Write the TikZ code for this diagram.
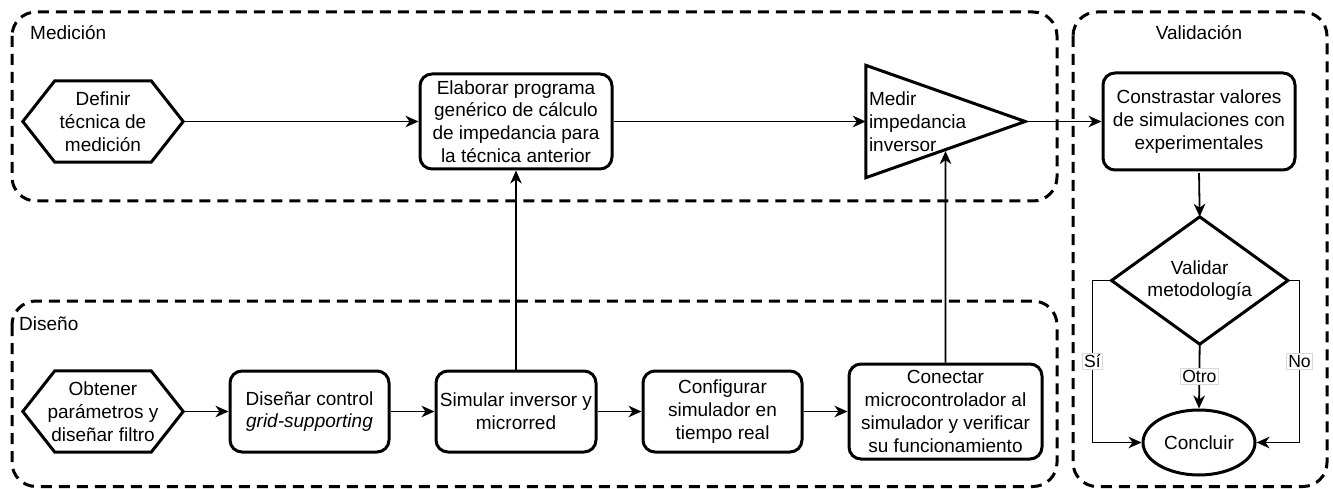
\documentclass[tikz,border=0pt]{standalone}
\usepackage{fontspec}
\setmainfont{Liberation Sans}
\usetikzlibrary{arrows.meta,shapes.geometric,calc}
\begin{document}
\begin{tikzpicture}[x=1pt,y=-1pt,
  every node/.style={font=\fontsize{19}{22.8}\selectfont},
  group/.style={draw, line width=3pt, dash pattern=on 11pt off 7pt, rounded corners=24pt},
  proc/.style={draw, line width=3pt, rounded corners=12pt, align=center, inner sep=2pt, fill=white},
  frame/.style={inner sep=0pt, align=center},
  outline/.style={draw, fill=white, line width=3pt, line join=miter},
  arr/.style={line width=1.8pt, -{Stealth[length=13pt,width=11.5pt,inset=4pt]}},
  lbl/.style={fill=white, draw=black!15, line width=0.8pt, inner sep=1.5pt,
              font=\fontsize{17.6}{21}\selectfont}
]
% canvas
\fill[white] (0,0) rectangle (1333,489);
\useasboundingbox (0,0) rectangle (1333,489);

% phase groups
\draw[group] (12,12) rectangle (1057,201);
\draw[group] (12,301) rectangle (1057,486.5);
\draw[group] (1073,12) rectangle (1327,486.5);
\node[anchor=west, inner sep=0pt] (tmed) at (30,33) {Medición};
\node[anchor=west, inner sep=0pt] (tdis) at (19,324) {Diseño};
\node[inner sep=0pt] (tval) at (1199,33) {Validación};

% --- Medición ---
\node[frame, minimum width=160pt, minimum height=81pt] (def) at (103,121.5) {};
\path[outline] (def.west) -- ([xshift=32pt]def.north west) -- ([xshift=-32pt]def.north east)
  -- (def.east) -- ([xshift=-32pt]def.south east) -- ([xshift=32pt]def.south west) -- cycle;
\node[frame] (tdef) at (def) {Definir\\técnica de\\medición};

\node[proc, minimum width=192pt, minimum height=95pt] (elab) at (516,121.5)
  {Elaborar programa\\genérico de cálculo\\de impedancia para\\la técnica anterior};

\node[minimum width=159pt, minimum height=112pt, inner ysep=0pt] (med) at (945.5,121.5) {};
\path[outline] (med.north west) -- (med.east) -- (med.south west) -- cycle;
\node[text width=153pt, align=left, inner xsep=3pt, inner ysep=0pt] (tmedir) at (med)
  {Medir\\impedancia\\inversor};

% --- Diseño ---
\node[frame, minimum width=160pt, minimum height=81pt] (obt) at (103,411.5) {};
\path[outline] (obt.west) -- ([xshift=32pt]obt.north west) -- ([xshift=-32pt]obt.north east)
  -- (obt.east) -- ([xshift=-32pt]obt.south east) -- ([xshift=32pt]obt.south west) -- cycle;
\node[frame] (tobt) at (obt) {Obtener\\parámetros y\\diseñar filtro};

\node[proc, minimum width=159pt, minimum height=81pt] (dctl) at (309.5,411.5)
  {Diseñar control\\\textit{grid-supporting}};
\node[proc, minimum width=160pt, minimum height=81pt, inner xsep=0pt] (sim) at (516,411.5)
  {Simular inversor y\\microrred};
\node[proc, minimum width=159pt, minimum height=81pt] (cfg) at (722.5,411.5)
  {Configurar\\simulador en\\tiempo real};
\node[proc, minimum width=193pt, minimum height=95pt] (con) at (945.5,411.5)
  {Conectar\\microcontrolador al\\simulador y verificar\\su funcionamiento};

% --- Validación ---
\node[proc, minimum width=192pt, minimum height=97pt] (cst) at (1199,121.5)
  {Constrastar valores\\de simulaciones con\\experimentales};
\node[frame, minimum width=176pt, minimum height=127pt] (val) at (1199.7,280.5) {};
\path[outline] (val.north) -- (val.east) -- (val.south) -- (val.west) -- cycle;
\node[frame] (tval2) at (val) {Validar\\metodología};
\node[ellipse, draw, fill=white, line width=3pt, minimum width=112pt, minimum height=65pt,
      inner sep=0pt] (end) at (1199,442.5) {Concluir};

% connectors
\draw[arr] (def.east) -- (elab.west);
\draw[arr] (elab.east) -- (med.west);
\draw[arr] (med.east) -- (cst.west);
\draw[arr] (obt.east) -- (dctl.west);
\draw[arr] (dctl.east) -- (sim.west);
\draw[arr] (sim.east) -- (cfg.west);
\draw[arr] (cfg.east) -- (con.west);
\draw[arr] (sim.north) -- (elab.south);
\draw[arr, shorten >=1.5pt] (con.north) -- ($(med.south west)!0.5!(med.east)$);
\draw[arr, shorten <=1.5pt] (cst.south) -- (val.north);
\draw[arr] (val.west) -- ++(-19,0) |- node[pos=0.25, lbl] {Sí} (end.west);
\draw[arr] (val.east) -- ++(11.6,0) |- node[pos=0.25, lbl] {No} (end.east);
\draw[arr] (val.south) -- node[lbl] {Otro} (end.north);
\end{tikzpicture}
\end{document}
